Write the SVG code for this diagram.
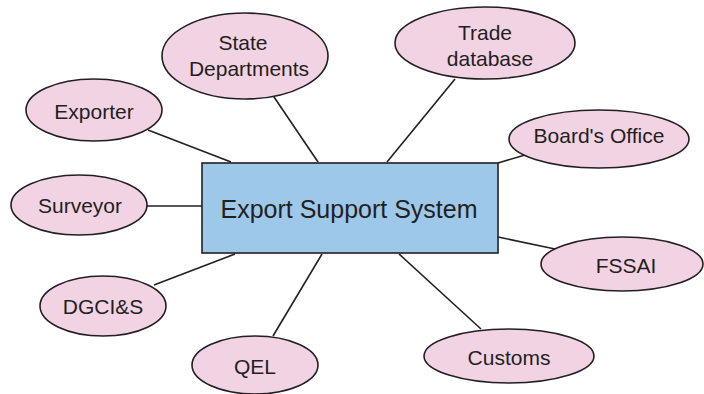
<svg xmlns="http://www.w3.org/2000/svg" width="704" height="394" viewBox="0 0 704 394">
<style>
.n ellipse{fill:#f2d3e4;stroke:#231f20;stroke-width:1.6}
.c line{stroke:#231f20;stroke-width:1.6}
text{font-family:"Liberation Sans",Arial,sans-serif;font-size:21px;fill:#231f20;text-anchor:middle}
</style>
<rect width="704" height="394" fill="#ffffff"/>
<g id="connectors" class="c">
<line x1="148" y1="130" x2="231" y2="162"/>
<line x1="272" y1="94" x2="318" y2="162"/>
<line x1="455" y1="79" x2="387" y2="162"/>
<line x1="525" y1="155" x2="498" y2="163"/>
<line x1="147" y1="206" x2="202" y2="206"/>
<line x1="154" y1="285" x2="235" y2="254"/>
<line x1="273" y1="336" x2="322" y2="254"/>
<line x1="399" y1="254" x2="481" y2="329"/>
<line x1="498" y1="237" x2="555" y2="249"/>
</g>
<g id="center">
<rect x="202" y="163" width="296" height="90" fill="#9ec8e9" stroke="#231f20" stroke-width="1.6"/>
<text x="349" y="218" style="font-size:25px">Export Support System</text>
</g>
<g id="state" class="n">
<ellipse cx="245" cy="56" rx="83" ry="43"/>
<text x="243" y="50">State</text>
<text x="249" y="76">Departments</text>
</g>
<g id="trade" class="n">
<ellipse cx="485" cy="43" rx="90" ry="36"/>
<text x="485" y="40">Trade</text>
<text x="490" y="66">database</text>
</g>
<g id="exporter" class="n">
<ellipse cx="94" cy="110" rx="68" ry="31"/>
<text x="94" y="119">Exporter</text>
</g>
<g id="board" class="n">
<ellipse cx="599" cy="139" rx="90" ry="29"/>
<text x="599" y="143">Board's Office</text>
</g>
<g id="surveyor" class="n">
<ellipse cx="79" cy="205" rx="68" ry="30"/>
<text x="80" y="213">Surveyor</text>
</g>
<g id="fssai" class="n">
<ellipse cx="622" cy="264" rx="81" ry="27"/>
<text x="626" y="273">FSSAI</text>
</g>
<g id="dgcis" class="n">
<ellipse cx="103" cy="306" rx="63" ry="30"/>
<text x="103" y="314">DGCI&amp;S</text>
</g>
<g id="qel" class="n">
<ellipse cx="255" cy="365" rx="63" ry="29"/>
<text x="255" y="374">QEL</text>
</g>
<g id="customs" class="n">
<ellipse cx="509" cy="356" rx="85" ry="27"/>
<text x="509" y="365">Customs</text>
</g>
</svg>
